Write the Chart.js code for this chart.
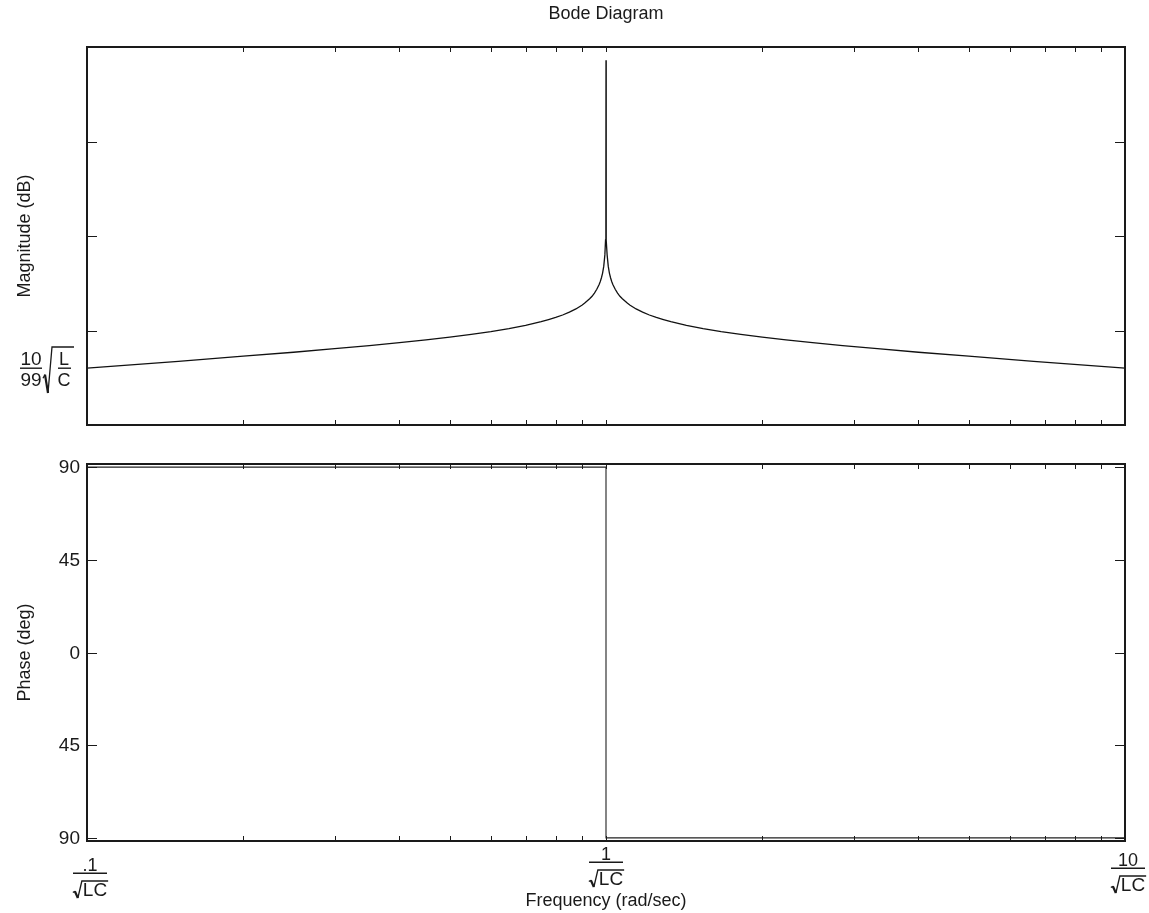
<!DOCTYPE html>
<html>
<head>
<meta charset="utf-8">
<script src="https://cdn.jsdelivr.net/npm/chart.js@4.4.0/dist/chart.umd.min.js"></script>
<style>
  html, body { margin: 0; padding: 0; background: #fff; }
  #wrap { position: relative; width: 1149px; height: 913px; }
  canvas { position: absolute; left: 0; }
  #mag { top: 0; }
  #phase { top: 445px; }
</style>
</head>
<body>
<div id="wrap">
  <canvas id="mag" width="1149" height="445"></canvas>
  <canvas id="phase" width="1149" height="468"></canvas>
</div>
<script>
// normalized frequency (units of 1/sqrt(LC)) and magnitude
const freq = [0.1, 0.15, 0.2, 0.25, 0.3, 0.35, 0.4, 0.45, 0.5, 0.55,
              0.6, 0.65, 0.7, 0.75, 0.775, 0.8, 0.825, 0.85, 0.875, 0.9,
              0.91, 0.93, 0.94, 0.95, 0.96, 0.97, 0.975, 0.98, 0.985, 0.99,
              0.995, 0.998, 0.999, 0.9995, 0.9999, 1.0,
              1.0001, 1.0005, 1.001, 1.002, 1.005, 1.0101, 1.0152, 1.0204, 1.0256, 1.0309,
              1.0417, 1.0526, 1.0638, 1.0753, 1.0989, 1.1111, 1.1429, 1.1765, 1.2121, 1.25,
              1.2903, 1.3333, 1.4286, 1.5385, 1.6667, 1.8182, 2, 2.2222, 2.5, 2.8571,
              3.3333, 4, 5, 6.6667, 10];
const magDb = [-19.9, -16.3, -13.6, -11.5, -9.6, -8.0, -6.4, -5.0, -3.5, -2.1,
               -0.6, 1.0, 2.7, 4.7, 5.8, 6.9, 8.2, 9.7, 11.4, 13.5,
               14.5, 16.8, 18.1, 19.8, 21.8, 24.3, 25.9, 27.9, 30.4, 33.9,
               40, 47.9, 54, 60, 74, 143,
               74, 60, 54, 47.9, 40, 33.9, 30.4, 27.9, 25.9, 24.3,
               21.8, 19.8, 18.1, 16.8, 14.5, 13.5, 11.4, 9.7, 8.2, 6.9,
               5.8, 4.7, 2.7, 1.0, -0.6, -2.1, -3.5, -5.0, -6.4, -8.0,
               -9.6, -11.5, -13.6, -16.3, -19.9];

const phaseFreq = [0.1, 1.0, 1.0, 10];
const phaseDeg = [90, 90, -90, -90];

// ticks
const xTicks = [0.1, 0.2, 0.3, 0.4, 0.5, 0.6, 0.7, 0.8, 0.9, 1, 2, 3, 4, 5, 6, 7, 8, 9, 10];
const xTickNums = ['.1', '1', '10'];
const xTickVals = [0.1, 1, 10];
const magTicks = [0, 50, 100];
const magLabelVal = -19.9;
const phaseTicks = [90, 45, 0, -45, -90];
const phaseTickLabels = ['90', '45', '0', '45', '90'];

const FONT = '"Liberation Sans", Arial, sans-serif';
const INK = '#1a1a1a';

// radical sign: hook at left, overline to barEnd
function radical(ctx, x, top, bottom, barEnd) {
    const h = bottom - top;
    ctx.save();
    ctx.strokeStyle = INK;
    ctx.lineJoin = 'miter';
    ctx.lineWidth = 1.3;
    ctx.beginPath();
    ctx.moveTo(x, top + h * 0.68);
    ctx.lineTo(x + 2, top + h * 0.6);
    ctx.stroke();
    ctx.lineWidth = 2.2;
    ctx.beginPath();
    ctx.moveTo(x + 2, top + h * 0.6);
    ctx.lineTo(x + 5, bottom);
    ctx.stroke();
    ctx.lineWidth = 1.3;
    ctx.beginPath();
    ctx.moveTo(x + 5, bottom);
    ctx.lineTo(x + 9, top);
    ctx.lineTo(barEnd, top);
    ctx.stroke();
    ctx.restore();
}

// box with inward ticks, MATLAB style
const boxTicks = {
    id: 'boxTicks',
    afterDatasetsDraw(chart, args, opts) {
        const ctx = chart.ctx, a = chart.chartArea;
        const xs = chart.scales.x, ys = chart.scales.y;
        ctx.save();
        ctx.strokeStyle = INK;
        ctx.lineWidth = 1;
        ctx.beginPath();
        xTicks.forEach(v => {
            const px = Math.round(xs.getPixelForValue(v)) + 0.5;
            ctx.moveTo(px, a.top); ctx.lineTo(px, a.top + 5);
            ctx.moveTo(px, a.bottom); ctx.lineTo(px, a.bottom - 5);
        });
        opts.yTicks.forEach(v => {
            const py = Math.round(ys.getPixelForValue(v)) + 0.5;
            ctx.moveTo(a.left, py); ctx.lineTo(a.left + 10, py);
            ctx.moveTo(a.right, py); ctx.lineTo(a.right - 10, py);
        });
        ctx.stroke();
        ctx.lineWidth = 2;
        ctx.strokeRect(a.left, a.top, a.right - a.left, a.bottom - a.top);
        ctx.restore();
    }
};

const magText = {
    id: 'magText',
    afterDraw(chart) {
        const ctx = chart.ctx, a = chart.chartArea;
        const ys = chart.scales.y;
        ctx.save();
        ctx.fillStyle = INK;
        ctx.font = '18px ' + FONT;
        ctx.textAlign = 'center';
        ctx.textBaseline = 'alphabetic';
        ctx.fillText('Bode Diagram', (a.left + a.right) / 2, 19);

        ctx.save();
        ctx.translate(30, (a.top + a.bottom) / 2);
        ctx.rotate(-Math.PI / 2);
        ctx.fillText('Magnitude (dB)', 0, 0);
        ctx.restore();

        // 10/99 * sqrt(L/C) at the curve's end value
        const y = Math.round(ys.getPixelForValue(magLabelVal));
        ctx.font = '19px ' + FONT;
        ctx.fillText('10', 31, y - 3);
        ctx.fillText('99', 31, y + 18);
        ctx.fillRect(20, y - 0.5, 22, 1.4);
        radical(ctx, 43, y - 21, y + 25, 74);
        ctx.font = '18px ' + FONT;
        ctx.fillText('L', 64, y - 3);
        ctx.fillText('C', 64, y + 18);
        ctx.fillRect(58, y - 0.5, 13, 1.4);
        ctx.restore();
    }
};

const phaseText = {
    id: 'phaseText',
    afterDraw(chart) {
        const ctx = chart.ctx, a = chart.chartArea;
        const xs = chart.scales.x, ys = chart.scales.y;
        const top = chart.canvas.offsetTop;
        ctx.save();
        ctx.fillStyle = INK;
        ctx.font = '19px ' + FONT;
        ctx.textAlign = 'right';
        ctx.textBaseline = 'middle';
        phaseTicks.forEach((v, i) => {
            ctx.fillText(phaseTickLabels[i], a.left - 7, ys.getPixelForValue(v) + 1);
        });

        ctx.textAlign = 'center';
        ctx.textBaseline = 'alphabetic';
        ctx.font = '18px ' + FONT;
        ctx.save();
        ctx.translate(30, (a.top + a.bottom) / 2);
        ctx.rotate(-Math.PI / 2);
        ctx.fillText('Phase (deg)', 0, 0);
        ctx.restore();

        ctx.fillText('Frequency (rad/sec)', (a.left + a.right) / 2, 906 - top);

        // fraction labels n / sqrt(LC)
        const lineYs = [873, 862, 868];
        const shifts = [3, 0, 3];
        xTickVals.forEach((v, i) => {
            const cx = xs.getPixelForValue(v) + shifts[i];
            const ly = lineYs[i] - top;
            ctx.font = '18px ' + FONT;
            ctx.textAlign = 'center';
            ctx.fillText(xTickNums[i], cx, ly - 2);
            ctx.fillRect(cx - 17, ly - 0.5, 34, 1.5);
            ctx.font = '19px ' + FONT;
            const w = ctx.measureText('LC').width;
            const total = 10 + w;
            const x0 = cx - total / 2;
            radical(ctx, x0, ly + 8, ly + 25, x0 + total + 1);
            ctx.textAlign = 'left';
            ctx.fillText('LC', x0 + 10, ly + 23);
        });
        ctx.restore();
    }
};

function xScale() {
    return { type: 'logarithmic', min: 0.1, max: 10, display: false };
}

new Chart(document.getElementById('mag'), {
    type: 'scatter',
    data: {
        datasets: [{
            data: freq.map((f, i) => ({ x: f, y: magDb[i] })),
            showLine: true,
            borderColor: '#111',
            borderWidth: 1.3,
            pointRadius: 0,
            tension: 0
        }]
    },
    options: {
        responsive: false,
        animation: false,
        devicePixelRatio: 1,
        layout: { padding: { left: 87, right: 24, top: 47, bottom: 20 } },
        scales: {
            x: xScale(),
            y: { type: 'linear', min: -50, max: 150, display: false }
        },
        plugins: {
            legend: { display: false },
            tooltip: { enabled: false },
            boxTicks: { yTicks: magTicks }
        }
    },
    plugins: [boxTicks, magText]
});

new Chart(document.getElementById('phase'), {
    type: 'scatter',
    data: {
        datasets: [{
            data: phaseFreq.map((f, i) => ({ x: f, y: phaseDeg[i] })),
            showLine: true,
            borderColor: '#222',
            borderWidth: 1.1,
            pointRadius: 0,
            tension: 0
        }]
    },
    options: {
        responsive: false,
        animation: false,
        devicePixelRatio: 1,
        layout: { padding: { left: 87, right: 24, top: 19, bottom: 72 } },
        scales: {
            x: xScale(),
            y: { type: 'linear', min: -91.5, max: 91.5, display: false }
        },
        plugins: {
            legend: { display: false },
            tooltip: { enabled: false },
            boxTicks: { yTicks: phaseTicks }
        }
    },
    plugins: [boxTicks, phaseText]
});
</script>
</body>
</html>
